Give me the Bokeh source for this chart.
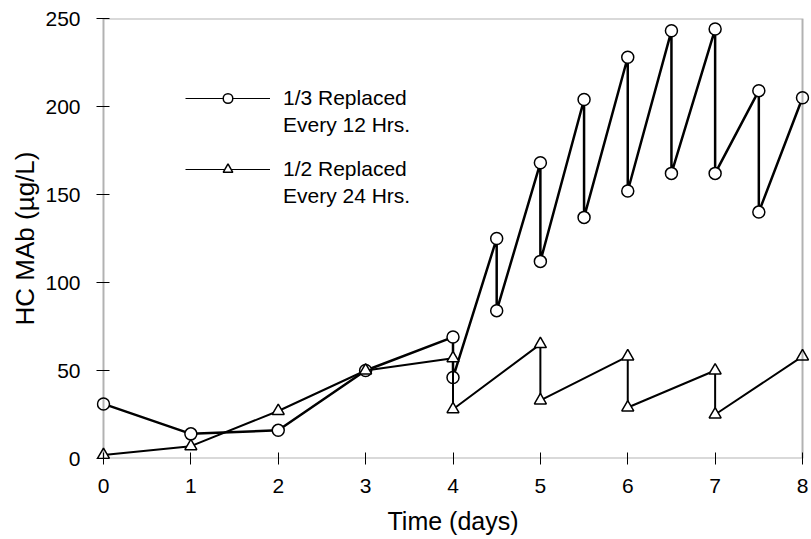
from bokeh.plotting import figure
from bokeh.models import Range1d, Legend, LegendItem, FixedTicker, BoxAnnotation
from bokeh.embed import file_html
from bokeh.resources import INLINE

# 1/3 replaced every 12 hrs (circles)
t12 = [0, 1, 2, 3, 4, 4, 4.5, 4.5, 5, 5, 5.5, 5.5, 6, 6, 6.5, 6.5, 7, 7, 7.5, 7.5, 8]
y12 = [31, 14, 16, 50, 69, 46, 125, 84, 168, 112, 204, 137, 228, 152, 243, 162, 244, 162, 209, 140, 205]

# 1/2 replaced every 24 hrs (triangles)
t24 = [0, 1, 2, 3, 4, 4, 5, 5, 6, 6, 7, 7, 8]
y24 = [2, 7, 27, 50, 57, 28, 65, 33, 58, 29, 50, 25, 58]

x_ticks = [0, 1, 2, 3, 4, 5, 6, 7, 8]
y_ticks = [0, 50, 100, 150, 200, 250]
x_lo, x_hi = 0, 8
y_lo, y_hi = 0, 250

label12 = ["1/3 Replaced", "Every 12 Hrs."]
label24 = ["1/2 Replaced", "Every 24 Hrs."]

FONT = "Liberation Sans"
X_PAD = 0.08  # small room so markers on the frame edges are not clipped

p = figure(width=810, height=539, output_backend="svg", toolbar_location=None,
           x_range=Range1d(x_lo - X_PAD, x_hi + X_PAD), y_range=Range1d(y_lo, y_hi),
           min_border_left=96, min_border_right=1, min_border_top=18, min_border_bottom=81)
p.grid.visible = False
p.outline_line_color = None
p.background_fill_color = "white"
p.border_fill_color = "white"

# plot box drawn at the data limits
p.add_layout(BoxAnnotation(left=x_lo, right=x_hi, bottom=y_lo, top=y_hi,
                           fill_alpha=0, line_color="black", line_width=2))

for ax in (p.xaxis[0], p.yaxis[0]):
    ax.axis_line_color = None
    ax.major_tick_line_color = "black"
    ax.major_tick_line_width = 1
    ax.minor_tick_line_color = None
    ax.major_label_text_font = FONT
    ax.major_label_text_font_size = "21px"
    ax.major_label_text_color = "black"
    ax.axis_label_text_font = FONT
    ax.axis_label_text_font_style = "normal"
    ax.axis_label_text_color = "black"

p.xaxis.ticker = FixedTicker(ticks=x_ticks)
p.yaxis.ticker = FixedTicker(ticks=y_ticks)
p.xaxis.major_tick_in = 6
p.xaxis.major_tick_out = 6
p.yaxis.major_tick_in = 13
p.yaxis.major_tick_out = 0
p.xaxis.major_label_standoff = 14
p.yaxis.major_label_standoff = 16
p.xaxis.axis_label = "Time (days)"
p.xaxis.axis_label_text_font_size = "25px"
p.xaxis.axis_label_standoff = 11
p.yaxis.axis_label = "HC MAb (µg/L)"
p.yaxis.axis_label_text_font_size = "26px"
p.yaxis.axis_label_standoff = 2

l1 = p.line(t12, y12, line_color="black", line_width=2.5)
s1 = p.scatter(t12, y12, marker="circle", size=12, fill_color="white",
               line_color="black", line_width=1.5)
l2 = p.line(t24, y24, line_color="black", line_width=2)
s2 = p.scatter(t24, y24, marker="triangle", size=12, fill_color="white",
               line_color="black", line_width=1.5)

# thin line samples for the legend (not drawn in the plot)
ll1 = p.line(t12, y12, line_color="black", line_width=1.2, visible=False)
ll2 = p.line(t24, y24, line_color="black", line_width=1.2, visible=False)
blank = p.line(t12, y12, line_alpha=0, visible=False)


def make_legend(labels, renderers, loc):
    lg = Legend(items=[
        LegendItem(label=labels[0], renderers=renderers),
        LegendItem(label=labels[1], renderers=[blank]),
    ], location=loc)
    lg.border_line_color = None
    lg.background_fill_alpha = 0
    lg.label_text_font = FONT
    lg.label_text_font_size = "21px"
    lg.label_text_color = "black"
    lg.glyph_width = 85
    lg.glyph_height = 24
    lg.label_height = 24
    lg.spacing = 3
    lg.padding = 0
    lg.margin = 0
    lg.label_standoff = 13
    return lg


p.add_layout(make_legend(label12, [ll1, s1], (89, 321)), "center")
p.add_layout(make_legend(label24, [ll2, s2], (89, 250)), "center")

open("out.html", "w").write(file_html(p, INLINE))
